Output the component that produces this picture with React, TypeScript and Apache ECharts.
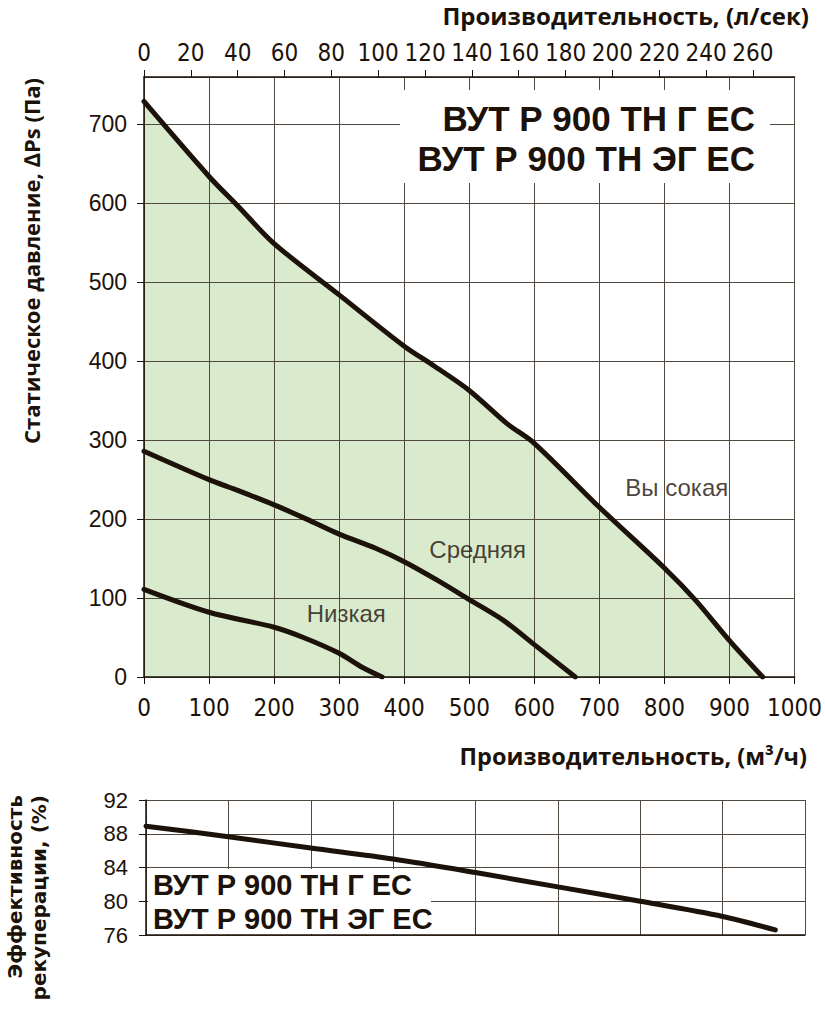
import React, { useEffect, useRef } from "react";
import * as echarts from "echarts";

// Main chart: static pressure (Pa) vs. airflow (m³/h)
const highX = [0, 100, 145, 200, 300, 400, 446, 500, 558, 600, 700, 800, 848, 900, 951];
const highY = [729, 634, 596, 549, 484, 419, 394, 363, 321, 296, 215, 138, 97, 46, 0];
const midX = [0, 100, 145, 200, 250, 300, 356, 400, 452, 500, 552, 600, 663];
const midY = [286, 250, 236, 218, 200, 181, 163, 146, 122, 98, 72, 41, 0];
const lowX = [0, 100, 200, 245, 300, 336, 366];
const lowY = [111, 82, 63, 50, 30, 12, 0];

// Curve name labels (placed in data coordinates)
const curveNames = ["Вы сокая", "Средняя", "Низкая"];
const curveLabelX = [819, 513, 311];
const curveLabelY = [240, 162, 81];

// Top axis tick labels (л/сек)
const lsTicks = [0, 20, 40, 60, 80, 100, 120, 140, 160, 180, 200, 220, 240, 260];

// Efficiency chart
const effX = [0, 125, 250, 375, 500, 625, 750, 875, 955];
const effY = [88.9, 87.65, 86.3, 85.0, 83.4, 81.7, 80.0, 78.2, 76.6];

const modelLines = ["ВУТ Р 900 ТН Г ЕС", "ВУТ Р 900 ТН ЭГ ЕС"];

const INK = "#1c120a";
const GRIDC = "#4f493f";
const FILL = "#d9eacd";
const NARROW = '"Liberation Sans Narrow", "Arial Narrow", "DejaVu Sans Condensed", sans-serif';
const ARIAL = '"Liberation Sans", Arial, sans-serif';
const OPEN = '"Open Sans", "Noto Sans", sans-serif';
const DEJAVU = '"DejaVu Sans", sans-serif';

const zip = (xs: number[], ys: number[]) => xs.map((x, i) => [x, ys[i]]);

export default function App() {
  const ref = useRef<HTMLDivElement>(null);
  useEffect(() => {
    if (!ref.current) return;
    const chart = echarts.init(ref.current, undefined, { renderer: "svg" });
    const txt = (
      x: number,
      y: number,
      text: string,
      font: string,
      align: string,
      vAlign: string,
      rotation = 0,
      z = 10
    ) => ({
      type: "text",
      x,
      y,
      rotation,
      z,
      style: {
        text,
        font,
        fill: INK,
        textAlign: align,
        textVerticalAlign: vAlign,
        align,
        verticalAlign: vAlign,
      },
    });
    const plain = (v: number) => String(v);
    const curve = (name: string, xs: number[], ys: number[], xi: number, yi: number) => ({
      type: "line",
      name,
      xAxisIndex: xi,
      yAxisIndex: yi,
      data: zip(xs, ys),
      smooth: 0.3,
      symbol: "none",
      z: 3,
      lineStyle: { color: INK, width: 5, cap: "round" },
    });
    chart.setOption({
      animation: false,
      backgroundColor: "#ffffff",
      grid: [
        { left: 144, top: 77, width: 663, height: 600 },
        { left: 146, top: 800, width: 659, height: 135 },
      ],
      xAxis: [
        {
          type: "value",
          gridIndex: 0,
          position: "bottom",
          min: 0,
          max: 1000,
          interval: 100,
          z: 1,
          axisLine: { show: true, lineStyle: { color: INK, width: 1.5 } },
          axisTick: { show: true, inside: false, length: 7, lineStyle: { color: INK } },
          axisLabel: { color: INK, fontFamily: NARROW, fontSize: 24, margin: 19, formatter: plain },
          splitLine: { show: true, lineStyle: { color: GRIDC, width: 1 } },
        },
        {
          type: "value",
          gridIndex: 0,
          position: "top",
          min: 0,
          max: 1000 / 3.6,
          interval: 20,
          z: 1,
          axisLine: { show: true, onZero: false, lineStyle: { color: INK, width: 1.5 } },
          axisTick: { show: true, length: 7, customValues: lsTicks, lineStyle: { color: INK } },
          axisLabel: {
            color: INK,
            fontFamily: NARROW,
            fontSize: 24,
            margin: 12,
            customValues: lsTicks,
            formatter: plain,
          },
          splitLine: { show: false },
        },
        {
          type: "value",
          gridIndex: 1,
          min: 0,
          max: 1000,
          interval: 125,
          z: 1,
          axisLine: { show: true, lineStyle: { color: INK, width: 1.5 } },
          axisTick: { show: false },
          axisLabel: { show: false },
          splitLine: { show: true, lineStyle: { color: GRIDC, width: 1 } },
        },
      ],
      yAxis: [
        {
          type: "value",
          gridIndex: 0,
          min: 0,
          max: 760,
          interval: 100,
          z: 1,
          axisLine: { show: true, onZero: false, lineStyle: { color: INK, width: 1.5 } },
          axisTick: { show: true, length: 7, lineStyle: { color: INK } },
          axisLabel: { color: INK, fontFamily: ARIAL, fontSize: 23, margin: 17, showMaxLabel: false },
          splitLine: { show: true, lineStyle: { color: GRIDC, width: 1 } },
        },
        {
          type: "value",
          gridIndex: 1,
          min: 76,
          max: 92,
          interval: 4,
          z: 1,
          axisLine: { show: true, onZero: false, lineStyle: { color: INK, width: 1.5 } },
          axisTick: { show: true, length: 7, lineStyle: { color: INK } },
          axisLabel: { color: INK, fontFamily: ARIAL, fontSize: 22, margin: 18 },
          splitLine: { show: true, lineStyle: { color: GRIDC, width: 1 } },
        },
      ],
      series: [
        {
          type: "line",
          name: "fill",
          xAxisIndex: 0,
          yAxisIndex: 0,
          data: zip(highX, highY),
          smooth: 0.3,
          symbol: "none",
          z: 0,
          lineStyle: { width: 0, opacity: 0 },
          areaStyle: { color: FILL, opacity: 1 },
          silent: true,
        },
        curve("Высокая", highX, highY, 0, 0),
        curve("Средняя", midX, midY, 0, 0),
        curve("Низкая", lowX, lowY, 0, 0),
        {
          type: "scatter",
          name: "labels",
          xAxisIndex: 0,
          yAxisIndex: 0,
          symbolSize: 0,
          z: 4,
          data: curveLabelX.map((x, i) => ({ value: [x, curveLabelY[i]], name: curveNames[i] })),
          label: {
            show: true,
            position: "inside",
            formatter: "{b}",
            color: INK,
            fontFamily: ARIAL,
            fontSize: 24,
          },
        },
        curve("Эффективность", effX, effY, 2, 1),
      ],
      graphic: [
        { type: "rect", z: 5, shape: { x: 400, y: 90, width: 370, height: 93 }, style: { fill: "#ffffff" } },
        txt(755, 118, modelLines[0], `bold 35px ${ARIAL}`, "right", "middle", 0, 6),
        txt(755, 158, modelLines[1], `bold 35px ${ARIAL}`, "right", "middle", 0, 6),
        { type: "rect", z: 5, shape: { x: 148, y: 869, width: 283, height: 65 }, style: { fill: "#ffffff" } },
        txt(153, 885, modelLines[0], `bold 29px ${ARIAL}`, "left", "middle", 0, 6),
        txt(153, 919, modelLines[1], `bold 29px ${ARIAL}`, "left", "middle", 0, 6),
        txt(809, 15, "Производительность, (л/сек)", `bold 24px ${OPEN}`, "right", "middle"),
        txt(807, 756, "Производительность, (м³/ч)", `bold 23.5px ${OPEN}`, "right", "middle"),
        txt(31, 261, "Статическое давление, \u2206Ps (Па)", `bold 22px ${OPEN}`, "center", "middle", Math.PI / 2),
        txt(15, 795, "Эффективность", `bold 20px ${DEJAVU}`, "right", "middle", Math.PI / 2),
        txt(39, 795, "рекуперации, (%)", `bold 20px ${DEJAVU}`, "right", "middle", Math.PI / 2),
      ],
    });
    return () => chart.dispose();
  }, []);
  return <div ref={ref} style={{ width: 825, height: 1013, position: "absolute", left: 0, top: 0 }} />;
}
